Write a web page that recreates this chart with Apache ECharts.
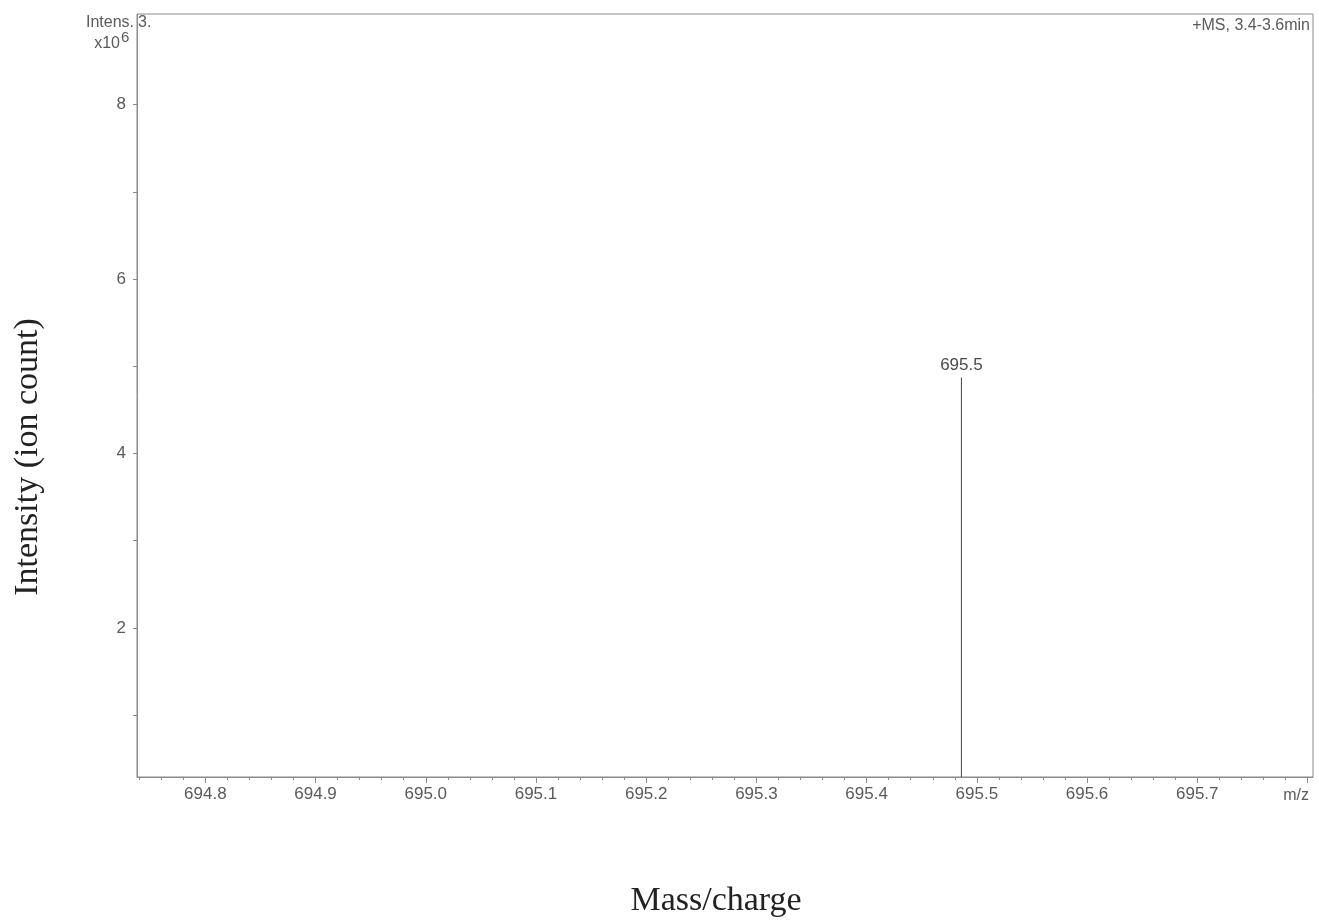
<!DOCTYPE html>
<html>
<head>
<meta charset="utf-8">
<title>Mass spectrum</title>
<script src="https://cdn.jsdelivr.net/npm/echarts@6/dist/echarts.min.js"></script>
<style>
  html, body { margin: 0; padding: 0; background: #ffffff; }
  #chart { width: 1319px; height: 923px; }
</style>
</head>
<body>
<div id="chart"></div>
<script>
// Centroided peak list (m/z, intensity in units of 10^6 counts)
const peakMz = [695.486];
const peakIntensity = [4.87];

// Axis ticks and labels
const xTickLabels = ['694.8', '694.9', '695.0', '695.1', '695.2', '695.3', '695.4', '695.5', '695.6', '695.7'];
const xMajorTicks = [694.8, 694.9, 695.0, 695.1, 695.2, 695.3, 695.4, 695.5, 695.6, 695.7, 695.8];
const yTickLabels = ['2', '4', '6', '8'];
const yTicks = [1, 2, 3, 4, 5, 6, 7, 8];

const xMin = 694.738, xMax = 695.805;
const yMin = 0.29, yMax = 9.04;

// minor m/z ticks every 0.02
const xMinorTicks = [];
for (let i = 0; i <= 53; i++) {
  xMinorTicks.push(+(694.74 + i * 0.02).toFixed(2));
}

const labelColor = '#5a5a5a';
const axisColor = '#8a8a8a';
const sans = '"Liberation Sans", Arial, sans-serif';
const serif = '"Liberation Serif", "Times New Roman", serif';

const chart = echarts.init(document.getElementById('chart'), null, { renderer: 'canvas' });

const option = {
  backgroundColor: '#ffffff',
  animation: false,
  grid: {
    left: 137, top: 14, width: 1176, height: 763,
    show: true, borderColor: axisColor, borderWidth: 1, backgroundColor: 'transparent'
  },
  xAxis: [
    {
      type: 'value', min: xMin, max: xMax, position: 'bottom',
      axisLine: { show: true, lineStyle: { color: axisColor, width: 1 } },
      axisTick: { show: true, customValues: xMajorTicks, length: 6, lineStyle: { color: axisColor } },
      axisLabel: {
        show: true,
        customValues: xTickLabels.map(Number),
        formatter: v => v.toFixed(1),
        fontFamily: sans, fontSize: 17, color: labelColor, margin: 9
      },
      splitLine: { show: false }
    },
    {
      type: 'value', min: xMin, max: xMax, position: 'bottom', gridIndex: 0,
      axisLine: { show: false },
      axisTick: { show: true, customValues: xMinorTicks, length: 3, lineStyle: { color: axisColor } },
      axisLabel: { show: false },
      splitLine: { show: false }
    }
  ],
  yAxis: {
    type: 'value', min: yMin, max: yMax,
    axisLine: { show: true, lineStyle: { color: axisColor, width: 1 } },
    axisTick: { show: true, customValues: yTicks, length: 4, lineStyle: { color: axisColor } },
    axisLabel: {
      show: true,
      customValues: yTickLabels.map(Number),
      formatter: v => String(v),
      fontFamily: sans, fontSize: 17, color: labelColor, margin: 11
    },
    splitLine: { show: false }
  },
  series: [
    {
      type: 'bar',
      xAxisIndex: 0,
      barWidth: 1,
      clip: true,
      data: peakMz.map((mz, i) => [mz, peakIntensity[i]]),
      itemStyle: { color: '#444444' },
      label: {
        show: true, position: 'top', distance: 4,
        formatter: p => p.value[0].toFixed(1),
        fontFamily: sans, fontSize: 17, color: '#4a4a4a'
      }
    }
  ],
  graphic: [
    { type: 'text', x: 134, y: 23, style: { text: 'Intens.', font: '16px ' + sans, fill: labelColor, align: 'right', verticalAlign: 'middle' } },
    { type: 'text', x: 120, y: 44, style: { text: 'x10', font: '16px ' + sans, fill: labelColor, align: 'right', verticalAlign: 'middle' } },
    { type: 'text', x: 121, y: 38, style: { text: '6', font: '15px ' + sans, fill: labelColor, align: 'left', verticalAlign: 'middle' } },
    { type: 'text', x: 138, y: 23, style: { text: '3.', font: '16px ' + sans, fill: labelColor, align: 'left', verticalAlign: 'middle' } },
    { type: 'text', x: 1310, y: 26, style: { text: '+MS, 3.4-3.6min', font: '16px ' + sans, fill: labelColor, align: 'right', verticalAlign: 'middle' } },
    { type: 'text', x: 1309, y: 796, style: { text: 'm/z', font: '16px ' + sans, fill: labelColor, align: 'right', verticalAlign: 'middle' } },
    { type: 'text', x: 716, y: 901, style: { text: 'Mass/charge', font: '34px ' + serif, fill: '#222222', align: 'center', verticalAlign: 'middle' } },
    { type: 'text', x: 28, y: 457, rotation: Math.PI / 2, style: { text: 'Intensity (ion count)', font: '34px ' + serif, fill: '#222222', align: 'center', verticalAlign: 'middle' } }
  ]
};

chart.setOption(option);
</script>
</body>
</html>
